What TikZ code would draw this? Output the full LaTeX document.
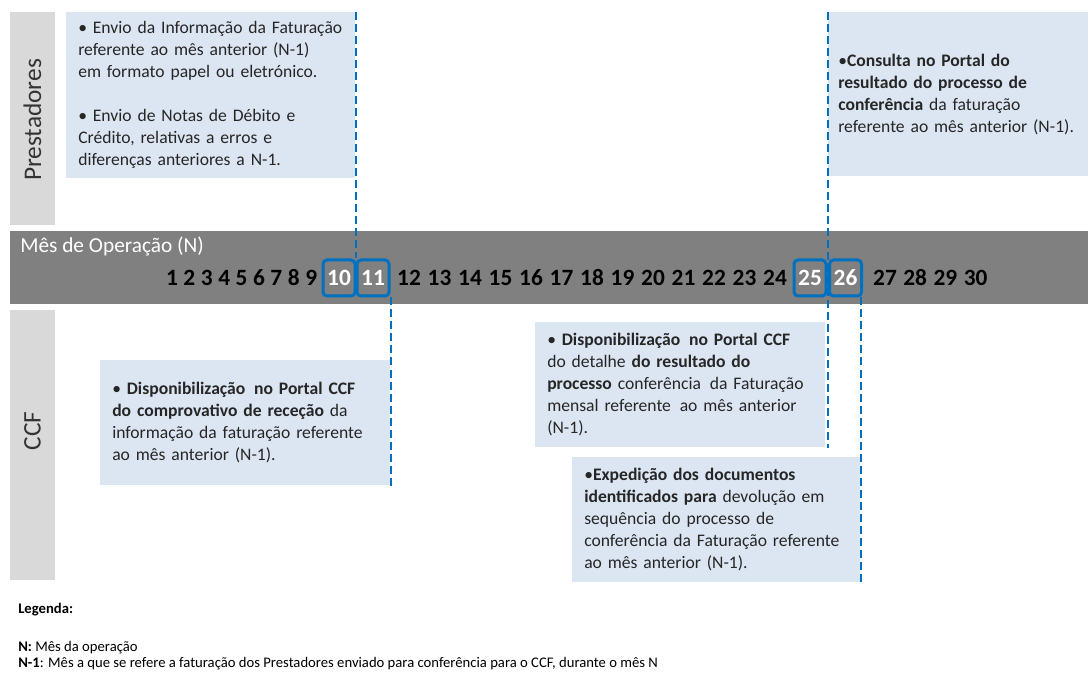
\documentclass[tikz,border=0pt]{standalone}
\usepackage{fontspec}
\setmainfont{Carlito}
\definecolor{boxblue}{HTML}{DCE6F2}
\definecolor{sidegray}{HTML}{D9D9D9}
\definecolor{bandgray}{HTML}{808080}
\definecolor{markblue}{HTML}{0070C0}
\tikzset{
  infobox/.style={fill=boxblue, anchor=north west, align=left, inner xsep=9pt,
    inner ysep=0pt, text=black!85, font=\fontsize{13.2}{16.5}\selectfont},
  sidebox/.style={fill=sidegray, anchor=north west, minimum width=33.75pt, inner sep=0pt},
  sidelabel/.style={rotate=90, inner sep=0pt, text=black!80, font=\fontsize{19}{22}\selectfont},
  daynum/.style={inner sep=0pt, font=\fontsize{17.5}{20}\selectfont\bfseries},
  daymark/.style={draw=markblue, line width=2.25pt, rounded corners=3pt, text=white,
    minimum width=24pt, minimum height=27pt},
  limit/.style={draw=markblue, line width=1.5pt, dash pattern=on 6pt off 3pt},
}
\begin{document}
\begin{tikzpicture}[x=0.75pt,y=-0.75pt]
  \useasboundingbox (0,0) rectangle (1088,673);

  % side labels
  \node[sidebox, minimum height=159.75pt] (prestbox) at (10,12) {};
  \node[sidelabel] (prest) at (32.5,120) {Prestadores};
  \node[sidebox, minimum height=202.5pt] (ccfbox) at (10,310) {};
  \node[sidelabel] (ccf) at (32.5,431) {CCF};

  % Prestadores
  \node[infobox, text width=198.75pt, minimum height=124.5pt] (p1) at (66,12)
    {• Envio da Informação da Faturação\\referente ao mês anterior (N-1)\\em formato papel ou eletrónico.\\[16.5pt]
     • Envio de Notas de Débito e\\Crédito, relativas a erros e\\diferenças anteriores a N-1.};
  \node[infobox, inner xsep=7.5pt, text width=195pt, minimum height=123pt] (p2) at (828,12)
    {•\textbf{Consulta no Portal do}\\\textbf{resultado do processo de}\\\textbf{conferência} da faturação\\referente ao mês anterior (N-1).};

  % CCF
  \node[infobox, text width=199.5pt, minimum height=93.75pt] (c1) at (100,360)
    {• \textbf{Disponibilização\, no Portal CCF}\\\textbf{do comprovativo de receção} da\\informação da faturação referente\\ao mês anterior (N-1).};
  \node[infobox, text width=199.5pt, minimum height=93.75pt] (c2) at (535,322)
    {• \textbf{Disponibilização\, no Portal CCF}\\do detalhe \textbf{do resultado do}\\\textbf{processo} conferência\, da Faturação\\mensal referente\, ao mês anterior\\(N-1).};
  \node[infobox, text width=198pt, minimum height=93.75pt] (c3) at (572,457)
    {•\textbf{Expedição dos documentos}\\\textbf{identificados para} devolução em\\sequência do processo de\\conferência da Faturação referente\\ao mês anterior (N-1).};

  % month band
  \node[fill=bandgray, anchor=north west, minimum width=808.5pt, minimum height=54.75pt,
    inner sep=0pt] (band) at (10,231) {};
  \node[anchor=west, inner sep=0pt, text=white, font=\fontsize{16}{19}\selectfont]
    (bandtitle) at (20,246) {Mês de Operação (N)};

  \foreach \n in {1,...,9}
    {\node[daynum] (n\n) at ({172+(\n-1)*17.4},278) {\n};}
  \foreach \n in {12,...,24}
    {\node[daynum] (n\n) at ({409+(\n-12)*30.5},278) {\n};}
  \foreach \n in {27,...,30}
    {\node[daynum] (n\n) at ({885+(\n-27)*30.2},278) {\n};}
  \node[daynum, daymark] (n10) at (339,278) {10};
  \node[daynum, daymark] (n11) at (373,278) {11};
  \node[daynum, daymark] (n25) at (810,278) {25};
  \node[daynum, daymark] (n26) at (845.5,278) {26};

  % limits
  \draw[limit] (p1.north east) -- (p1.north east |- n10.north);
  \draw[limit] (c1.south east |- n11.south) -- (c1.south east);
  \draw[limit] (p2.north west) -- (p2.north west |- c2.south);
  \draw[limit] (c3.south east |- n26.south) -- (c3.south east);

  % legend
  \node[anchor=west, inner sep=0pt, font=\fontsize{11}{12}\selectfont\bfseries]
    (legtitle) at (18,610) {Legenda:};
  \node[anchor=north west, align=left, inner sep=0pt, font=\fontsize{11}{12}\selectfont]
    (legtext) at (18,641) {\textbf{N:} Mês da operação\\
    \textbf{N-1}: Mês a que se refere a faturação dos Prestadores enviado para conferência para o CCF, durante o mês N};
\end{tikzpicture}
\end{document}
